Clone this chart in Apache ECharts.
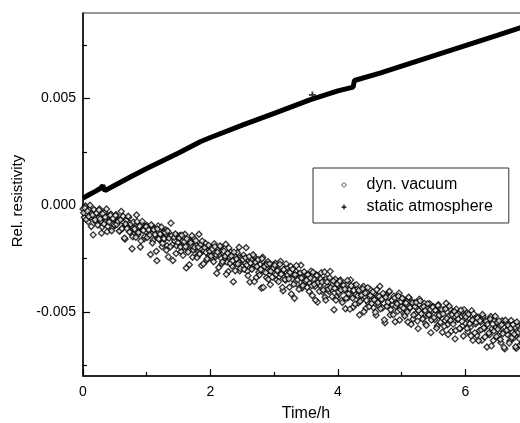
<!DOCTYPE html>
<html><head><meta charset="utf-8">
<script src="https://cdn.jsdelivr.net/npm/echarts@6/dist/echarts.min.js"></script>
<style>html,body{margin:0;padding:0;background:#fff;overflow:hidden}#c{width:520px;height:423px}</style>
</head><body><div id="c"></div>
<script>
// All series values are relative resistivity in units of 1e-3.
const staticLine = [[0,0.33],[0.1,0.5],[0.2,0.66],[0.27,0.78],[0.31,0.92],[0.345,0.68],[0.5,0.93],[0.75,1.33],[1.0,1.72],[1.25,2.08],[1.5,2.44],[1.84,2.97],[2.0,3.17],[2.5,3.75],[3.0,4.3],[3.56,4.93],[4.0,5.35],[4.24,5.53],[4.26,5.84],[4.66,6.18],[5.0,6.51],[5.5,6.99],[6.0,7.47],[6.5,7.95],[6.86,8.3],[7.0,8.43]];
const staticMarks = [[3.6,5.16]];
const vacuumA = [
[0,-0.18],[0.02,-0.57],[0.04,-0.04],[0.06,-0.40],[0.08,-0.77],[0.10,-0.21],[0.12,-0.56],[0.14,-0.38],[0.16,-1.39],[0.18,-0.24],[0.20,-0.78],[0.22,-0.40],[0.24,-0.60],[0.26,-0.18],[0.28,-0.75],[0.30,-1.02],[0.32,-0.57],[0.34,-0.35],[0.36,-0.74],[0.38,-1.24],[0.40,-0.51],[0.42,-0.71],[0.44,-0.42],[0.46,-1.06],[0.48,-0.65],
[0.50,-0.95],[0.52,-0.45],[0.54,-0.84],[0.56,-0.68],[0.58,-1.20],[0.60,-0.29],[0.62,-1.08],[0.64,-0.80],[0.66,-1.59],[0.68,-0.71],[0.70,-1.03],[0.72,-0.57],[0.74,-1.25],[0.76,-0.96],[0.78,-1.48],[0.80,-0.87],[0.82,-1.19],[0.84,-0.46],[0.86,-1.39],[0.88,-1.04],[0.90,-1.96],[0.92,-0.88],[0.94,-1.17],[0.96,-1.58],[0.98,-1.00],
[1.00,-0.95],[1.02,-1.40],[1.04,-1.19],[1.06,-2.31],[1.08,-0.98],[1.10,-1.65],[1.12,-1.19],[1.14,-1.41],[1.16,-2.60],[1.18,-0.97],[1.20,-1.61],[1.22,-1.39],[1.24,-1.95],[1.26,-1.27],[1.28,-1.59],[1.30,-1.16],[1.32,-1.90],[1.34,-2.42],[1.36,-1.46],[1.38,-0.84],[1.40,-1.86],[1.42,-1.45],[1.44,-1.67],[1.46,-2.26],[1.48,-1.44],
[1.50,-1.78],[1.52,-1.42],[1.54,-2.17],[1.56,-1.69],[1.58,-1.96],[1.60,-1.36],[1.62,-2.94],[1.64,-1.69],[1.66,-2.13],[1.68,-1.65],[1.70,-1.89],[1.72,-2.44],[1.74,-1.56],[1.76,-2.08],[1.78,-1.87],[1.80,-2.35],[1.82,-1.36],[1.84,-2.25],[1.86,-2.82],[1.88,-1.86],[1.90,-2.14],[1.92,-1.78],[1.94,-2.58],[1.96,-2.02],[1.98,-2.35],
[2.00,-2.00],[2.02,-2.49],[2.04,-2.14],[2.06,-1.81],[2.08,-2.41],[2.10,-3.19],[2.12,-2.04],[2.14,-2.33],[2.16,-1.95],[2.18,-2.74],[2.20,-2.24],[2.22,-2.51],[2.24,-1.83],[2.26,-2.67],[2.28,-3.11],[2.30,-2.41],[2.32,-2.19],[2.34,-2.85],[2.36,-3.59],[2.38,-2.39],[2.40,-2.73],[2.42,-2.22],[2.44,-2.64],[2.46,-3.08],[2.48,-2.42],
[2.50,-2.87],[2.52,-2.34],[2.54,-2.70],[2.56,-1.99],[2.58,-3.09],[2.60,-2.58],[2.62,-3.60],[2.64,-2.54],[2.66,-2.91],[2.68,-2.39],[2.70,-2.81],[2.72,-3.39],[2.74,-2.57],[2.76,-3.14],[2.78,-2.78],[2.80,-3.88],[2.82,-2.44],[2.84,-3.09],[2.86,-2.78],[2.88,-3.39],[2.90,-2.64],[2.92,-3.08],[2.94,-3.72],[2.96,-2.96],[2.98,-2.81],
[3.00,-3.17],[3.02,-2.72],[3.04,-3.50],[3.06,-3.02],[3.08,-3.36],[3.10,-2.63],[3.12,-3.20],[3.14,-4.01],[3.16,-3.00],[3.18,-3.51],[3.20,-2.93],[3.22,-3.33],[3.24,-3.84],[3.26,-2.86],[3.28,-3.45],[3.30,-3.24],[3.32,-4.36],[3.34,-3.10],[3.36,-3.69],[3.38,-3.23],[3.40,-3.39],[3.42,-2.81],[3.44,-3.88],[3.46,-3.27],[3.48,-3.65],
[3.50,-3.25],[3.52,-3.85],[3.54,-3.43],[3.56,-3.65],[3.58,-3.09],[3.60,-4.23],[3.62,-3.45],[3.64,-3.81],[3.66,-3.26],[3.68,-4.54],[3.70,-3.59],[3.72,-3.75],[3.74,-3.16],[3.76,-4.06],[3.78,-3.52],[3.80,-4.31],[3.82,-3.43],[3.84,-3.80],[3.86,-4.04],[3.88,-3.10],[3.90,-3.97],[3.92,-3.71],[3.94,-4.90],[3.96,-3.47],[3.98,-4.28],
[4.00,-3.75],[4.02,-4.15],[4.04,-3.50],[4.06,-4.45],[4.08,-3.77],[4.10,-3.99],[4.12,-4.85],[4.14,-3.72],[4.16,-4.34],[4.18,-3.96],[4.20,-3.50],[4.22,-4.22],[4.24,-4.78],[4.26,-3.77],[4.28,-4.19],[4.30,-3.91],[4.32,-4.58],[4.34,-5.14],[4.36,-4.04],[4.38,-4.40],[4.40,-3.80],[4.42,-4.29],[4.44,-4.83],[4.46,-4.07],[4.48,-4.58],
[4.50,-3.93],[4.52,-4.44],[4.54,-4.26],[4.56,-4.80],[4.58,-4.12],[4.60,-5.15],[4.62,-4.25],[4.64,-4.68],[4.66,-3.80],[4.68,-4.46],[4.70,-4.81],[4.72,-4.26],[4.74,-5.51],[4.76,-4.19],[4.78,-4.69],[4.80,-4.08],[4.82,-5.14],[4.84,-4.45],[4.86,-4.67],[4.88,-4.26],[4.90,-5.46],[4.92,-4.57],[4.94,-4.96],[4.96,-4.12],[4.98,-4.89],
[5.00,-4.75],[5.02,-4.38],[5.04,-5.10],[5.06,-4.59],[5.08,-4.91],[5.10,-5.47],[5.12,-4.35],[5.14,-4.80],[5.16,-4.61],[5.18,-5.33],[5.20,-4.57],[5.22,-5.10],[5.24,-4.80],[5.26,-5.78],[5.28,-4.40],[5.30,-5.01],[5.32,-4.79],[5.34,-5.29],[5.36,-4.60],[5.38,-5.57],[5.40,-4.81],[5.42,-5.16],[5.44,-4.61],[5.46,-5.97],[5.48,-4.94],
[5.50,-4.75],[5.52,-5.36],[5.54,-4.93],[5.56,-5.66],[5.58,-4.66],[5.60,-5.19],[5.62,-5.03],[5.64,-5.95],[5.66,-4.91],[5.68,-5.41],[5.70,-4.59],[5.72,-5.60],[5.74,-5.19],[5.76,-4.86],[5.78,-5.90],[5.80,-5.06],[5.82,-5.42],[5.84,-6.26],[5.86,-4.87],[5.88,-5.35],[5.90,-5.06],[5.92,-5.79],[5.94,-5.21],[5.96,-5.64],[5.98,-4.89],
[6.00,-5.53],[6.02,-5.06],[6.04,-5.93],[6.06,-5.31],[6.08,-5.71],[6.10,-4.94],[6.12,-6.33],[6.14,-5.30],[6.16,-5.56],[6.18,-6.10],[6.20,-5.24],[6.22,-5.88],[6.24,-5.47],[6.26,-6.33],[6.28,-5.20],[6.30,-5.78],[6.32,-5.45],[6.34,-6.64],[6.36,-5.40],[6.38,-6.07],[6.40,-5.21],[6.42,-5.79],[6.44,-6.34],[6.46,-5.39],[6.48,-5.74],
[6.50,-5.48],[6.52,-6.11],[6.54,-5.68],[6.56,-6.44],[6.58,-5.41],[6.60,-5.92],[6.62,-6.73],[6.64,-5.52],[6.66,-6.06],[6.68,-5.73],[6.70,-6.36],[6.72,-5.40],[6.74,-5.95],[6.76,-6.23],[6.78,-5.72],[6.80,-6.71],[6.82,-5.62],[6.84,-6.06],[6.86,-6.55],[6.88,-5.57],[6.90,-6.18],[6.92,-5.94],[6.94,-6.46],[6.96,-5.77],[6.98,-6.34]
];
const vacuumB = [
[0.01,-0.36],[0.03,-0.13],[0.05,-0.67],[0.07,-0.28],[0.09,-0.53],[0.11,0.00],[0.13,-1.00],[0.15,-0.46],[0.17,-0.20],[0.19,-0.69],[0.21,-0.37],[0.23,-0.93],[0.25,-0.23],[0.27,-0.64],[0.29,-1.31],[0.31,-0.40],[0.33,-0.88],[0.35,-0.56],[0.37,-0.18],[0.39,-1.00],[0.41,-0.79],[0.43,-0.47],[0.45,-1.20],[0.47,-0.62],[0.49,-0.92],
[0.51,-0.48],[0.53,-0.90],[0.55,-0.75],[0.57,-1.21],[0.59,-0.68],[0.61,-1.10],[0.63,-0.52],[0.65,-1.54],[0.67,-0.88],[0.69,-1.10],[0.71,-0.52],[0.73,-1.26],[0.75,-0.88],[0.77,-2.04],[0.79,-0.79],[0.81,-1.11],[0.83,-1.50],[0.85,-0.77],[0.87,-1.28],[0.89,-0.98],[0.91,-1.67],[0.93,-0.76],[0.95,-1.18],[0.97,-1.47],[0.99,-1.01],
[1.01,-1.51],[1.03,-1.15],[1.05,-1.40],[1.07,-0.92],[1.09,-1.77],[1.11,-1.15],[1.13,-1.37],[1.15,-2.16],[1.17,-1.11],[1.19,-1.58],[1.21,-1.35],[1.23,-1.02],[1.25,-1.79],[1.27,-1.56],[1.29,-1.28],[1.31,-2.11],[1.33,-1.21],[1.35,-1.55],[1.37,-1.95],[1.39,-1.42],[1.41,-2.59],[1.43,-1.51],[1.45,-1.35],[1.47,-1.90],[1.49,-1.75],
[1.51,-1.54],[1.53,-1.96],[1.55,-1.41],[1.57,-2.35],[1.59,-1.72],[1.61,-1.94],[1.63,-1.58],[1.65,-2.20],[1.67,-2.79],[1.69,-1.76],[1.71,-1.43],[1.73,-2.10],[1.75,-1.97],[1.77,-1.66],[1.79,-2.46],[1.81,-1.96],[1.83,-2.29],[1.85,-1.83],[1.87,-1.68],[1.89,-2.75],[1.91,-1.99],[1.93,-2.21],[1.95,-2.51],[1.97,-1.88],[1.99,-2.16],
[2.01,-2.38],[2.03,-2.06],[2.05,-2.65],[2.07,-1.94],[2.09,-2.32],[2.11,-2.20],[2.13,-2.92],[2.15,-1.91],[2.17,-2.49],[2.19,-2.65],[2.21,-2.15],[2.23,-2.39],[2.25,-3.24],[2.27,-2.25],[2.29,-2.00],[2.31,-2.72],[2.33,-2.38],[2.35,-2.60],[2.37,-2.20],[2.39,-3.07],[2.41,-2.52],[2.43,-2.75],[2.45,-1.97],[2.47,-2.97],[2.49,-2.51],
[2.51,-2.55],[2.53,-3.00],[2.55,-2.46],[2.57,-2.80],[2.59,-3.30],[2.61,-2.41],[2.63,-2.71],[2.65,-3.00],[2.67,-2.32],[2.69,-3.58],[2.71,-2.68],[2.73,-2.87],[2.75,-2.55],[2.77,-3.27],[2.79,-3.02],[2.81,-2.51],[2.83,-3.85],[2.85,-2.87],[2.87,-3.16],[2.89,-2.77],[2.91,-3.47],[2.93,-2.74],[2.95,-3.09],[2.97,-3.37],[2.99,-2.94],
[3.01,-2.81],[3.03,-3.25],[3.05,-3.07],[3.07,-3.58],[3.09,-2.77],[3.11,-3.24],[3.13,-3.85],[3.15,-3.02],[3.17,-3.48],[3.19,-2.75],[3.21,-3.27],[3.23,-3.45],[3.25,-3.15],[3.27,-4.16],[3.29,-3.00],[3.31,-3.70],[3.33,-3.26],[3.35,-2.83],[3.37,-3.49],[3.39,-3.94],[3.41,-3.18],[3.43,-3.41],[3.45,-3.76],[3.47,-3.12],[3.49,-3.56],
[3.51,-3.51],[3.53,-3.26],[3.55,-4.04],[3.57,-3.41],[3.59,-3.77],[3.61,-3.14],[3.63,-3.71],[3.65,-4.45],[3.67,-3.29],[3.69,-3.62],[3.71,-4.04],[3.73,-3.46],[3.75,-3.60],[3.77,-3.97],[3.79,-3.13],[3.81,-4.45],[3.83,-3.60],[3.85,-3.93],[3.87,-3.40],[3.89,-3.86],[3.91,-4.28],[3.93,-3.55],[3.95,-3.89],[3.97,-4.45],[3.99,-3.69],
[4.01,-4.06],[4.03,-3.56],[4.05,-3.97],[4.07,-4.56],[4.09,-3.75],[4.11,-3.93],[4.13,-4.36],[4.15,-3.53],[4.17,-4.15],[4.19,-4.87],[4.21,-3.78],[4.23,-4.35],[4.25,-3.99],[4.27,-4.63],[4.29,-3.72],[4.31,-4.24],[4.33,-3.99],[4.35,-4.50],[4.37,-4.22],[4.39,-3.91],[4.41,-4.99],[4.43,-4.12],[4.45,-4.46],[4.47,-3.86],[4.49,-4.75],
[4.51,-4.23],[4.53,-4.60],[4.55,-4.06],[4.57,-4.43],[4.59,-5.02],[4.61,-3.96],[4.63,-4.57],[4.65,-4.27],[4.67,-4.85],[4.69,-4.40],[4.71,-4.13],[4.73,-5.37],[4.75,-4.31],[4.77,-4.73],[4.79,-4.54],[4.81,-4.03],[4.83,-4.90],[4.85,-4.46],[4.87,-5.13],[4.89,-4.35],[4.91,-4.73],[4.93,-4.62],[4.95,-4.26],[4.97,-5.38],[4.99,-4.52],
[5.01,-4.36],[5.03,-4.82],[5.05,-5.19],[5.07,-4.58],[5.09,-5.00],[5.11,-4.31],[5.13,-4.79],[5.15,-5.58],[5.17,-4.57],[5.19,-5.14],[5.21,-4.75],[5.23,-4.56],[5.25,-5.43],[5.27,-4.94],[5.29,-4.48],[5.31,-5.09],[5.33,-5.33],[5.35,-4.75],[5.37,-4.93],[5.39,-5.63],[5.41,-4.62],[5.43,-5.13],[5.45,-4.89],[5.47,-5.38],[5.49,-4.78],
[5.51,-5.26],[5.53,-4.92],[5.55,-5.76],[5.57,-4.70],[5.59,-5.15],[5.61,-5.48],[5.63,-4.89],[5.65,-5.09],[5.67,-5.67],[5.69,-4.86],[5.71,-5.30],[5.73,-6.06],[5.75,-4.73],[5.77,-5.39],[5.79,-5.13],[5.81,-5.57],[5.83,-4.98],[5.85,-5.87],[5.87,-5.14],[5.89,-5.33],[5.91,-5.77],[5.93,-4.92],[5.95,-5.44],[5.97,-6.13],[5.99,-5.17],
[6.01,-5.24],[6.03,-5.77],[6.05,-5.11],[6.07,-5.55],[6.09,-6.12],[6.11,-5.38],[6.13,-5.09],[6.15,-5.98],[6.17,-5.49],[6.19,-5.29],[6.21,-6.35],[6.23,-5.41],[6.25,-5.83],[6.27,-5.12],[6.29,-5.74],[6.31,-6.17],[6.33,-5.43],[6.35,-5.58],[6.37,-5.99],[6.39,-5.33],[6.41,-6.59],[6.43,-5.57],[6.45,-5.89],[6.47,-5.20],[6.49,-6.15],
[6.51,-5.81],[6.53,-5.42],[6.55,-6.29],[6.57,-5.60],[6.59,-6.02],[6.61,-6.66],[6.63,-5.39],[6.65,-5.86],[6.67,-5.62],[6.69,-6.46],[6.71,-5.77],[6.73,-6.21],[6.75,-5.60],[6.77,-6.04],[6.79,-6.63],[6.81,-5.47],[6.83,-5.95],[6.85,-6.25],[6.87,-5.84],[6.89,-6.48],[6.91,-5.64],[6.93,-6.20],[6.95,-5.97],[6.97,-6.98],[6.99,-5.83]
];
const xLabelValues = [0, 2, 4, 6];
const xMinorTicks = [1, 3, 5];
const yLabelValues = [-0.005, 0, 0.005];
const yMinorTicks = [-0.0075, -0.0025, 0.0025, 0.0075];

const FONT = "'Liberation Sans', Arial, sans-serif";
const PLUS = 'path://M1.5,0h1v1.5h1.5v1h-1.5v1.5h-1v-1.5h-1.5v-1h1.5z';
const toAbs = a => a.map(p => [p[0], p[1] / 1000]);

const chart = echarts.init(document.getElementById('c'), null, {renderer: 'canvas'});
const baseX = {type: 'value', min: 0, max: 7, position: 'bottom', splitLine: {show: false}};
const baseY = {type: 'value', min: -0.008, max: 0.009, position: 'left', splitLine: {show: false}};
chart.setOption({
  animation: false,
  backgroundColor: '#fff',
  grid: {left: 83, top: 13, width: 446, height: 363, outerBoundsMode: 'none', containLabel: false,
         show: true, borderColor: '#333', borderWidth: 1},
  legend: {
    orient: 'vertical', left: 313, top: 168, padding: [9, 16, 8, 28], itemGap: 6,
    itemWidth: 5, itemHeight: 5, borderColor: '#333', borderWidth: 1, selectedMode: false,
    textStyle: {fontSize: 16, color: '#000', fontFamily: FONT, padding: [0, 0, 0, 15], lineHeight: 16},
    data: [{name: 'dyn. vacuum', icon: 'diamond', itemStyle: {color: '#fff', borderColor: '#222', borderWidth: 1}},
           {name: 'static atmosphere', icon: PLUS, itemStyle: {color: '#000'}}]
  },
  xAxis: [
    Object.assign({}, baseX, {
      axisLine: {show: true, onZero: false, lineStyle: {color: '#000', width: 1.5}},
      axisTick: {inside: true, length: 7, customValues: xLabelValues, lineStyle: {color: '#000', width: 1.2}},
      axisLabel: {customValues: xLabelValues, formatter: v => String(v), fontSize: 14, color: '#000', fontFamily: FONT, margin: 9},
      name: 'Time/h', nameLocation: 'middle', nameGap: 30,
      nameTextStyle: {fontSize: 16, color: '#000', fontFamily: FONT}
    }),
    Object.assign({}, baseX, {
      axisLine: {show: false, onZero: false},
      axisTick: {inside: true, length: 4, customValues: xMinorTicks, lineStyle: {color: '#000', width: 1.2}},
      axisLabel: {show: false}
    })
  ],
  yAxis: [
    Object.assign({}, baseY, {
      axisLine: {show: true, onZero: false, lineStyle: {color: '#000', width: 1.5}},
      axisTick: {inside: true, length: 7, customValues: yLabelValues, lineStyle: {color: '#000', width: 1.2}},
      axisLabel: {customValues: yLabelValues, formatter: v => v.toFixed(3), fontSize: 14, color: '#000', fontFamily: FONT, margin: 7},
      name: 'Rel. resistivity', nameLocation: 'middle', nameGap: 54,
      nameTextStyle: {fontSize: 15, color: '#000', fontFamily: FONT, padding: [0, 13, 0, 0]}
    }),
    Object.assign({}, baseY, {
      axisLine: {show: false, onZero: false},
      axisTick: {inside: true, length: 4, customValues: yMinorTicks, lineStyle: {color: '#000', width: 1.2}},
      axisLabel: {show: false}
    })
  ],
  series: [
    {
      name: 'dyn. vacuum', type: 'scatter', xAxisIndex: 0, yAxisIndex: 0,
      data: toAbs(vacuumA).concat(toAbs(vacuumB)), symbol: 'diamond', symbolSize: 6,
      itemStyle: {color: '#eee', borderColor: '#000', borderWidth: 1.3}
    },
    {
      name: 'static atmosphere', type: 'line', xAxisIndex: 0, yAxisIndex: 0,
      data: toAbs(staticLine), showSymbol: false, symbol: PLUS,
      lineStyle: {color: '#000', width: 5}, itemStyle: {color: '#000'}
    },
    {
      name: 'static atmosphere', type: 'scatter', xAxisIndex: 0, yAxisIndex: 0,
      data: toAbs(staticMarks), symbol: PLUS, symbolSize: 7, itemStyle: {color: '#000'}
    }
  ]
});
</script>
</body></html>
